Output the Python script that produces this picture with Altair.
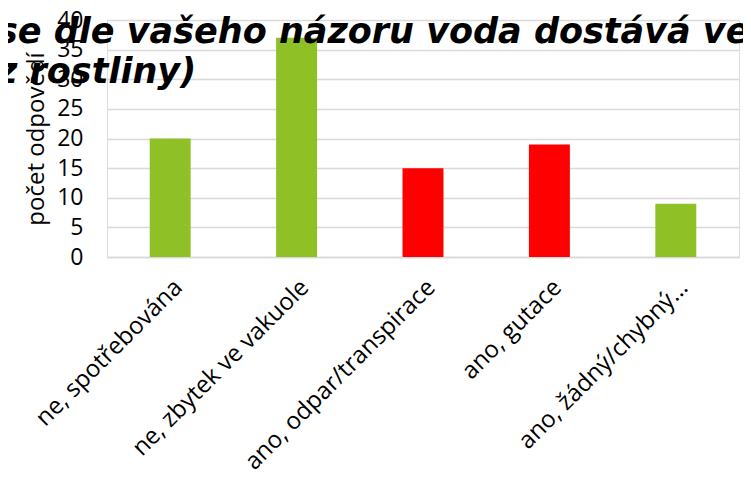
import altair as alt
import pandas as pd

categories = ["ne, spotřebována", "ne, zbytek ve vakuole", "ano, odpar/transpirace", "ano, gutace", "ano, žádný/chybný…"]
values = [20, 37, 15, 19, 9]
colors = ["#8FC126", "#8FC126", "#FF0000", "#FF0000", "#8FC126"]
title_lines = ["se dle vašeho názoru voda dostává ve", "z rostliny)"]

df = pd.DataFrame({"kategorie": categories, "pocet": values, "barva": colors})

FONT = "Open Sans"

chart = alt.Chart(df).mark_bar().encode(
    x=alt.X("kategorie:N", sort=categories,
            scale=alt.Scale(paddingInner=0.676, paddingOuter=0.338),
            axis=alt.Axis(title=None, labelAngle=-45, labelFontSize=24, labelFont=FONT,
                          labelColor="#000000", ticks=False, domainColor="#D9D9D9",
                          domainWidth=1.5, labelPadding=18, labelLimit=400)),
    y=alt.Y("pocet:Q", scale=alt.Scale(domain=[0, 40], nice=False),
            axis=alt.Axis(title="počet odpovědí", values=[0, 5, 10, 15, 20, 25, 30, 35, 40],
                          labelFontSize=23, labelFont=FONT, labelColor="#000000",
                          titleFontSize=24, titleFont=FONT, titleFontWeight="normal",
                          titleColor="#000000", titlePadding=8,
                          ticks=False, domain=False, gridColor="#D9D9D9", gridWidth=1.5,
                          labelPadding=24)),
    color=alt.Color("barva:N", scale=None),
).properties(
    width=632, height=237,
    title=alt.TitleParams(text=title_lines, anchor="start", fontSize=35, font="DejaVu Sans",
                          fontStyle="italic", fontWeight="bold", color="#000000",
                          lineHeight=40, baseline="alphabetic", dx=-110, dy=113, frame="group"),
    padding={"left": 99, "top": 12, "right": 4, "bottom": 215},
    autosize=alt.AutoSizeParams(type="none"),
).configure_view(stroke=None).configure(background="white")

chart.save("out.html", embed_options={"renderer": "svg", "actions": False})
